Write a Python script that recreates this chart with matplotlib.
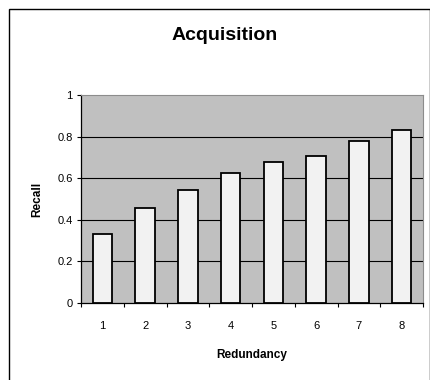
import matplotlib
matplotlib.use("Agg")
import matplotlib.pyplot as plt
from matplotlib.patches import Rectangle
import numpy as np

categories = ["1", "2", "3", "4", "5", "6", "7", "8"]
recall = [0.33, 0.455, 0.545, 0.625, 0.678, 0.707, 0.777, 0.83]
yticks = [0, 0.2, 0.4, 0.6, 0.8, 1]
ytick_labels = ["0", "0.2", "0.4", "0.6", "0.8", "1"]

plt.rcParams['font.family'] = ['Liberation Sans', 'DejaVu Sans']

W, H = 431, 380
fig = plt.figure(figsize=(W / 100, H / 100), dpi=100)
fig.patch.set_facecolor("white")
ax = fig.add_axes([81 / W, 1 - 303 / H, (423 - 81) / W, (303 - 95) / H])
ax.set_facecolor("#C0C0C0")

x = np.arange(1, len(categories) + 1)
ax.bar(x, recall, width=0.46, color="#F2F2F2", edgecolor="black", linewidth=1.3, zorder=3)

ax.set_xlim(0.5, len(categories) + 0.5)
ax.set_ylim(0, 1)
ax.set_yticks(yticks)
ax.set_yticklabels(ytick_labels, fontsize=8)
ax.set_xticks(x)
ax.set_xticklabels(categories, fontsize=8)
ax.set_xticks(np.arange(0.5, len(categories) + 1, 1), minor=True)
ax.tick_params(axis="x", which="major", length=0, pad=13)
ax.tick_params(axis="x", which="minor", length=3, width=0.8, direction="out")
ax.tick_params(axis="y", length=3, width=0.8, direction="out", pad=3)

for yv in yticks[1:-1]:
    ax.axhline(yv, color="black", linewidth=0.8, zorder=1)

ax.spines["left"].set_color("black")
ax.spines["bottom"].set_color("black")
ax.spines["left"].set_linewidth(0.9)
ax.spines["bottom"].set_linewidth(0.9)
ax.spines["top"].set_color("#8C8C8C")
ax.spines["right"].set_color("#8C8C8C")

ax.set_ylabel("Recall", fontsize=8.5, fontweight="bold", labelpad=10)
ax.set_xlabel("Redundancy", fontsize=8.5, fontweight="bold", labelpad=13)
fig.text(225 / W, 1 - 35 / H, "Acquisition", fontsize=14, fontweight="bold",
         ha="center", va="center")

fig.patches.append(Rectangle((9 / W, -0.05), (430 - 9) / W, 1 - 9 / H + 0.05,
                             transform=fig.transFigure, fill=False,
                             edgecolor="black", linewidth=1))

fig.savefig("out.png", dpi=100)
